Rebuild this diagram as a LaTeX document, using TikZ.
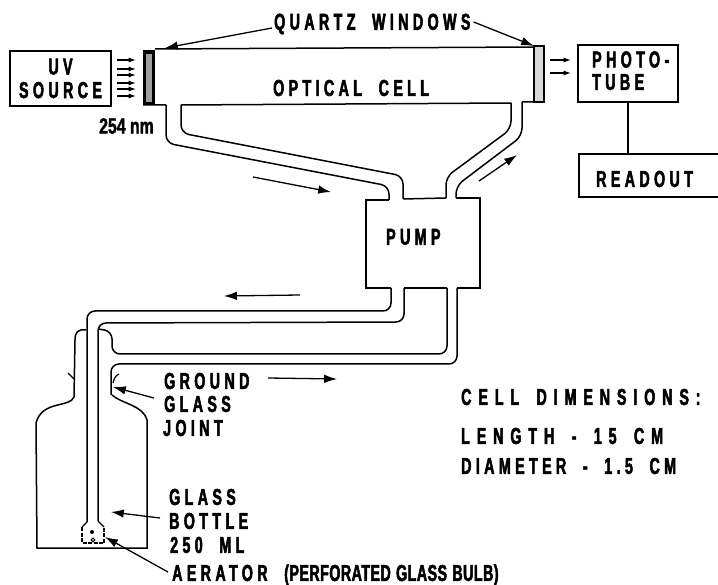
\documentclass[tikz,border=0pt]{standalone}
\usepackage{fontspec}
\usepackage{tikz}
\usetikzlibrary{arrows.meta, positioning, calc}
\newfontfamily\labelfont[FakeStretch=0.62,LetterSpace=19,FakeBold=2.2,WordSpace=2]{Liberation Sans}
\newfontfamily\widefont[FakeStretch=0.62,LetterSpace=30,FakeBold=2.2,WordSpace=1.6]{Liberation Sans}
\newfontfamily\tightfont[FakeStretch=0.62,LetterSpace=2,FakeBold=2.2,WordSpace=1.2]{Liberation Sans}
\newfontfamily\plainfont[FakeStretch=0.72,FakeBold=1.6]{Liberation Sans}

\begin{document}
\begin{tikzpicture}[x=1pt, y=-1pt,
        line/.style={line width=1.5pt},
        wall/.style={line width=1.5pt, rounded corners=8pt},
        boxnode/.style={draw, line width=1.5pt, inner sep=0pt, align=center},
        lbl/.style={inner sep=0pt, anchor=west, font=\labelfont\bfseries\fontsize{23}{23.5}\selectfont},
        widelbl/.style={lbl, font=\widefont\bfseries\fontsize{23}{23.5}\selectfont},
        flow/.style={-{Latex[length=4.5mm, width=3mm]}, line width=1.3pt},
        ray/.style={-{Latex[length=2.6mm, width=1.8mm]}, line width=1.2pt}]
        \useasboundingbox (0,0) rectangle (718,585);

        % Nodes
        \node[boxnode, minimum width=101pt, minimum height=55pt, font=\labelfont\bfseries\fontsize{23}{23.5}\selectfont] (uvsource) at (60.5,78.5) {UV\\SOURCE};
        \node[boxnode, minimum width=100pt, minimum height=57pt] (phototube) at (628,73.5) {};
        \node[lbl] (phototext) at (592,74) {\begin{tabular}{@{}l@{}}PHOTO-\\[-1pt]TUBE\end{tabular}};
        \node[lbl] (readout) at (596,179) {READOUT};
        \coordinate (readouttop) at (phototube.south |- 0,154);
        \node[lbl] (quartz) at (274,24) {QUARTZ WINDOWS};
        \node[lbl] (cell) at (273,88) {OPTICAL CELL};
        \node[inner sep=0pt, anchor=west, font=\plainfont\bfseries\fontsize{22}{24}\selectfont] (wavelength) at (99,126) {254 nm};
        \node[lbl] (pump) at (386,237) {PUMP};
        \node[lbl] (ground) at (164,381) {GROUND};
        \node[lbl] (glassa) at (164,404) {GLASS};
        \node[lbl] (joint) at (163,428) {JOINT};
        \node[lbl] (glassb) at (169,497) {GLASS};
        \node[lbl] (bottle) at (169,521) {BOTTLE};
        \node[lbl] (volume) at (170,545) {250 ML};
        \node[lbl] (aerator) at (172,575) {AERATOR {\tightfont\bfseries\fontsize{23}{23.5}\selectfont (PERFORATED GLASS BULB)}};
        \node[widelbl] (dimensions) at (461,397) {CELL DIMENSIONS:};
        \node[widelbl] (length) at (461,436) {LENGTH - 15 CM};
        \node[lbl] (diameter) at (461,466) {DIAMETER - 1.5 CM};

        % Optical cell and windows
        \draw[line] (155,49) -- (534,47);
        \draw[line] (143,105) -- (166,105) (181,105) -- (511,103) (522,102) -- (544,102);
        \fill[black] (143,50) rectangle (155,105);
        \fill[gray!75] (146,54) rectangle (152,102);
        \draw[line width=1.2pt, fill=gray!30] (534,46) rectangle (544,102);

        % Pump
        \draw[line] (389,200) -- (366,200) -- (366,288) -- (391,288);
        \draw[line] (403,199) -- (446,198);
        \draw[line] (456,198) -- (480,198) -- (480,288) -- (457,288);
        \draw[line] (404,288) -- (447,288);

        % Tubes
        \draw[wall] (166,105) -- (166,143) -- (389,186) -- (389,200);
        \draw[wall] (181,105) -- (181,133) -- (403,176) -- (403,199);
        \draw[wall] (446,198) -- (446,177) -- (511,129) -- (511,103);
        \draw[wall] (522,102) -- (522,136) -- (456,186) -- (456,198);
        \draw[wall] (391,288) -- (391,311) -- (87,311) -- (87,522);
        \draw[wall] (98,521) -- (98,323) -- (404,322) -- (404,288);
        \draw[wall] (457,288) -- (457,364) -- (111,364) -- (111,395);
        \draw[wall] (447,288) -- (447,354) -- (112,354) -- (112,331) -- (98,329);

        % Bottle
        \draw[line] (86,330) .. controls (78,329) and (75,332) .. (75,340) -- (74,397)
            .. controls (70,408) and (42,400) .. (36,423) -- (37,548) -- (147,548) -- (147,420)
            .. controls (143,405) and (122,404) .. (112,395);
        \draw[line width=1.2pt] (68,373) -- (74,379) (119,374) .. controls (115,376) and (114,379) .. (113,383);

        % Aerator bulb
        \draw[line width=1.2pt] (87,522) -- (82,527) (98,521) -- (104,527);
        \draw[line width=1.3pt, dash pattern=on 4pt off 1.5pt] (82,527) -- (82,543) -- (104,543) -- (104,527);
        \fill (92,532) circle (2pt);
        \draw[line width=1pt] (93,540) circle (1.8pt);

        % Arrows
        \draw[line] (phototube.south) -- (readouttop);
        \draw[line] (718,154) -- (579,154) -- (579,197) -- (718,197);
        \foreach \rayy in {60,69,75,83,89,96} {
            \draw[ray] (117,\rayy) -- (136,\rayy);
        }
        \foreach \rayy in {60,73} {
            \draw[ray] (550,\rayy) -- (571,\rayy);
        }
        \draw[flow] ([xshift=-2pt,yshift=-4pt]quartz.west) -- (165,48);
        \draw[flow] ([xshift=3pt,yshift=2pt]quartz.east) -- (534,46);
        \draw[flow] (253,177) -- (331,192);
        \draw[flow] (479,181) -- (517,155);
        \draw[flow] (300,295) -- (224,296);
        \draw[flow] (268,378) -- (337,379);
        \draw[flow] ([xshift=-10pt,yshift=6pt]glassa.west) -- (113,387);
        \draw[flow] ([xshift=-9pt,yshift=3pt]bottle.west) -- (111,512);
        \draw[flow] ([xshift=-4pt,yshift=3pt]aerator.west) -- (105,537);
    \end{tikzpicture}
\end{document}
